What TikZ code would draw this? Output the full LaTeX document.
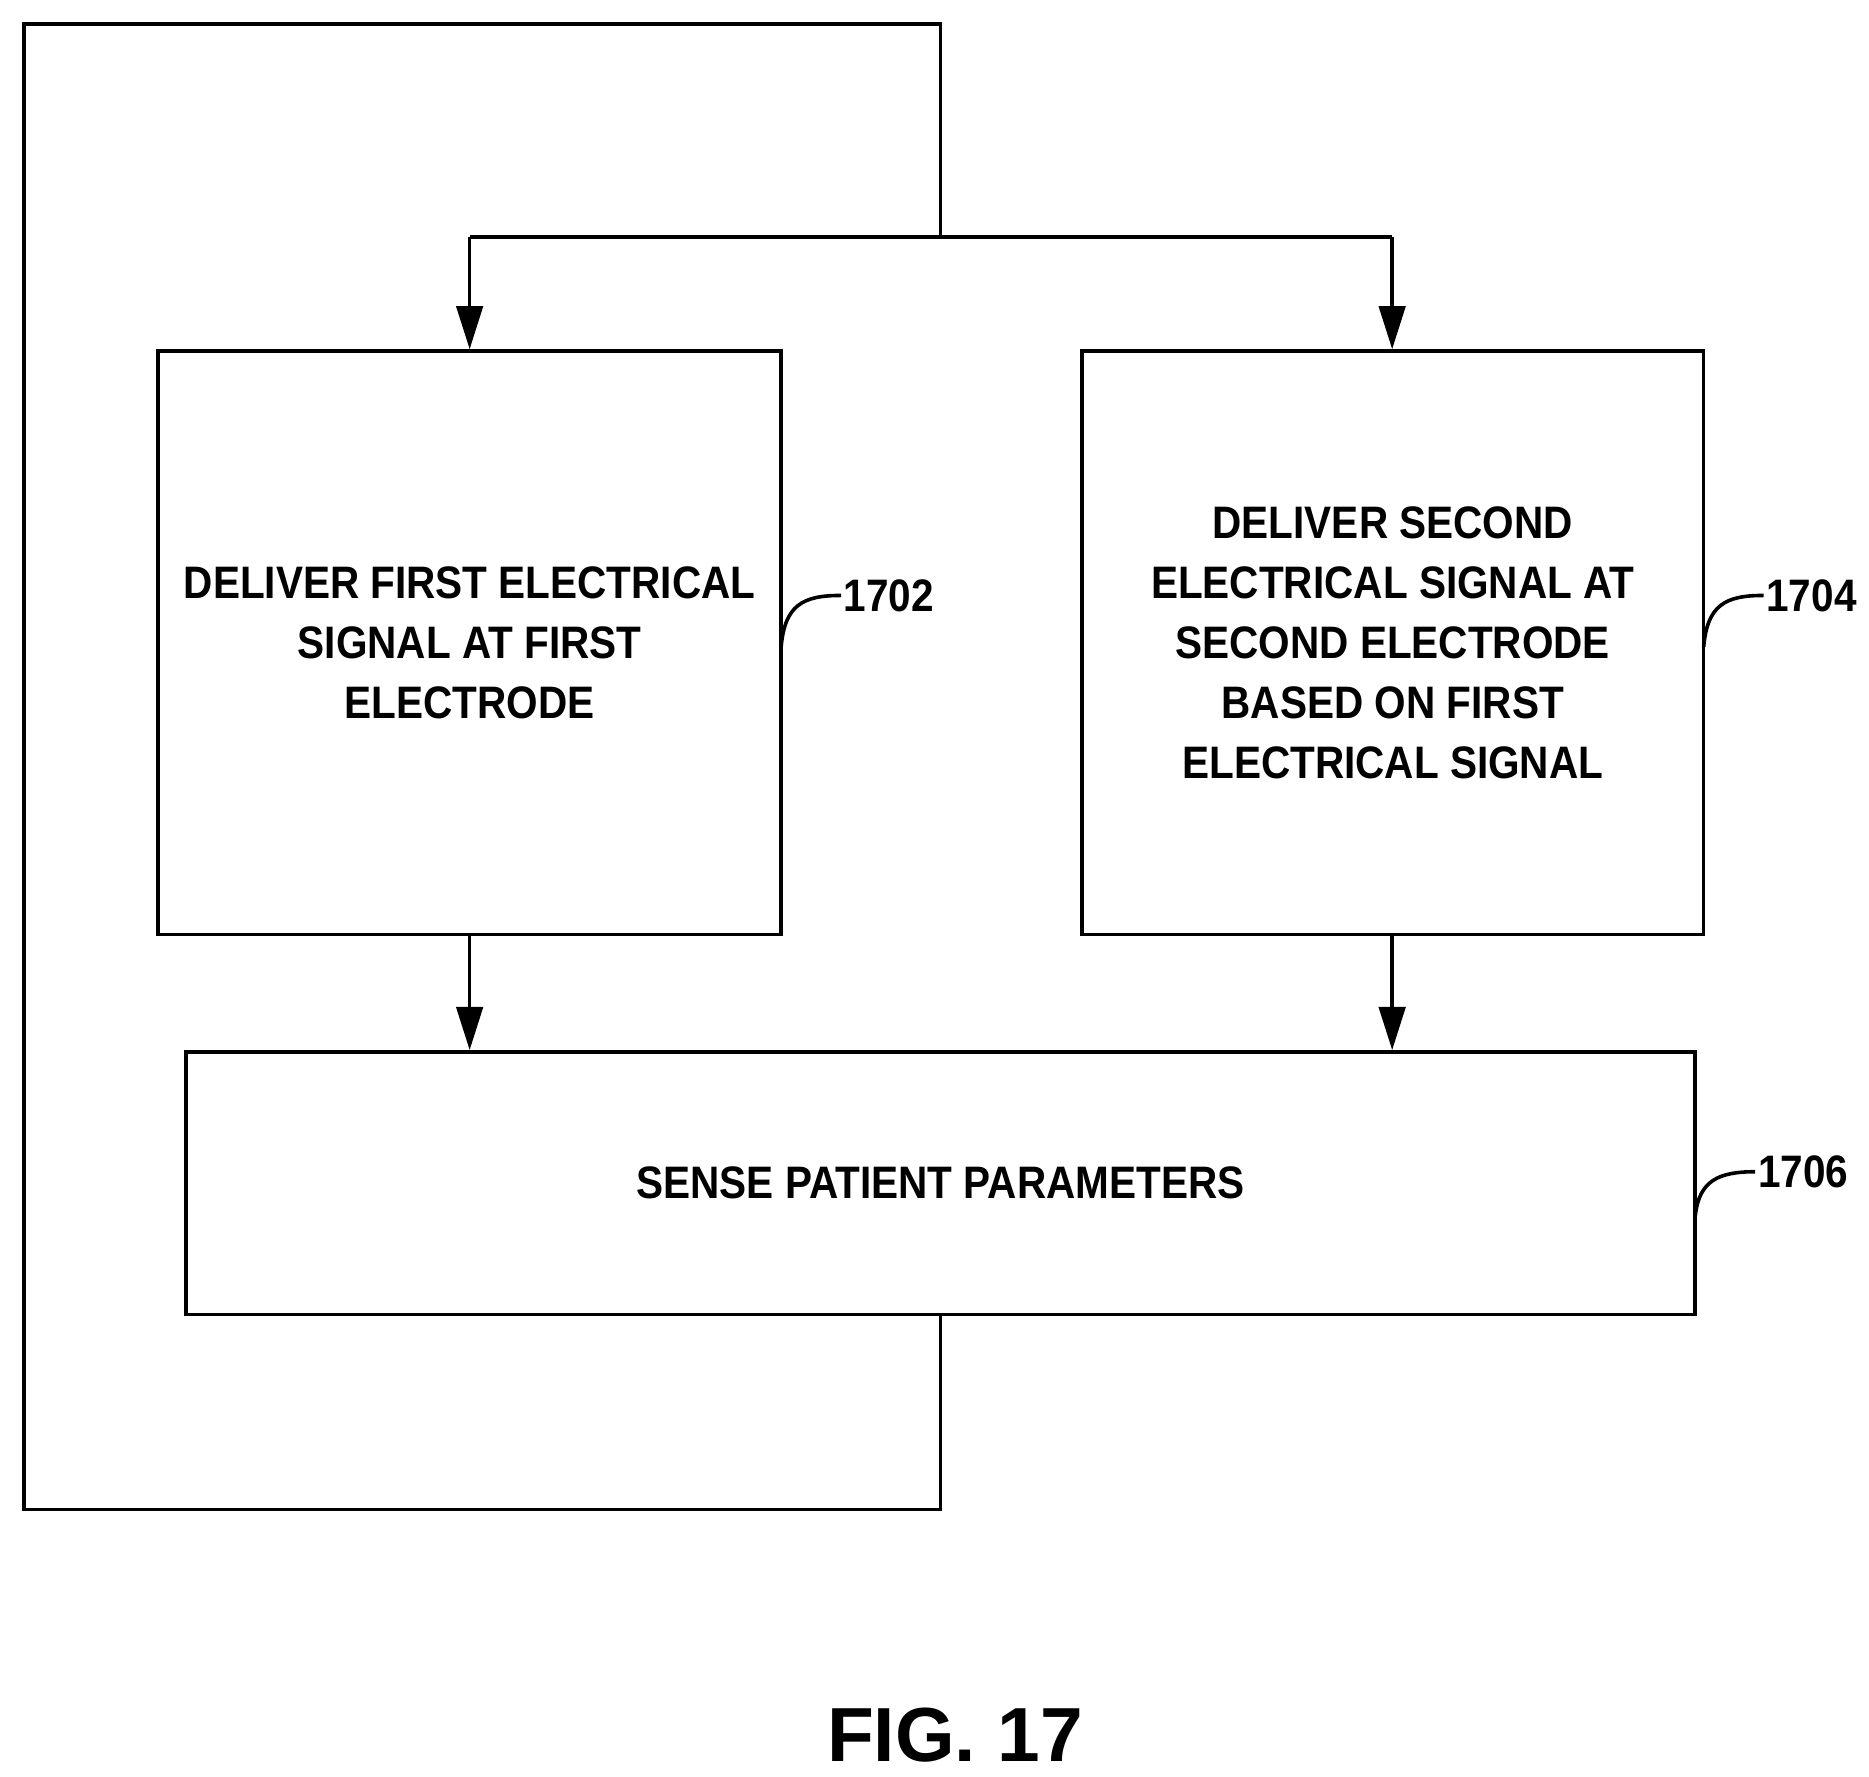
\documentclass[tikz,border=0pt]{standalone}
\usepackage{fontspec}
\setmainfont{Liberation Sans}[FakeStretch=0.89]
\newfontfamily\figfont{Liberation Sans}
\usetikzlibrary{arrows.meta}
\begin{document}
\begin{tikzpicture}[x=0.5pt,y=-0.5pt,
  box/.style={draw,line width=1.5pt,inner sep=0pt,align=center,font=\fontsize{19}{25}\selectfont\bfseries},
  ln/.style={line width=1.5pt},
  arr/.style={ln,-{Triangle[width=11pt,length=18pt]}},
  num/.style={font=\fontsize{19}{22}\selectfont\bfseries,anchor=west,inner sep=1pt}]
\useasboundingbox (0,0) rectangle (1560,1483);
\node[box,minimum width=260pt,minimum height=243.5pt] (b1) at (392,536.5) {DELIVER FIRST ELECTRICAL\\SIGNAL AT FIRST\\ELECTRODE};
\node[box,minimum width=259.5pt,minimum height=243.5pt] (b2) at (1162.5,536.5) {DELIVER SECOND\\ELECTRICAL SIGNAL AT\\SECOND ELECTRODE\\BASED ON FIRST\\ELECTRICAL SIGNAL};
\node[box,minimum width=630pt,minimum height=109.5pt] (b3) at (785,987.5) {SENSE PATIENT PARAMETERS};
\coordinate (top) at (785,20);
\coordinate (tl) at (20,20);
\coordinate (bl) at (20,1260);
\coordinate (br) at (785,1260);
\coordinate (j) at (785,198);
\coordinate (jl) at (392,198);
\coordinate (jr) at (1162,198);
\draw[ln] (b3.south) -- (br) -- (bl) -- (tl) -- (top) -- (j);
\draw[ln] (jl) -- (jr);
\draw[arr] (jl) -- (jl|-b1.north);
\draw[arr] (jr) -- (jr|-b2.north);
\draw[arr] (b1.south) -- (b1.south|-b3.north);
\draw[arr] (jr|-b2.south) -- (jr|-b3.north);
\node[num] (n1) at (702,497) {1702};
\node[num] (n2) at (1472,497) {1704};
\node[num] (n3) at (1465,978) {1706};
\draw[ln] (652,540) .. controls (655,505) and (670,497) .. (n1.west);
\draw[ln] (1422,540) .. controls (1425,505) and (1440,497) .. (n2.west);
\draw[ln] (1415,1015) .. controls (1418,985) and (1435,978) .. (n3.west);
\node[font=\figfont\fontsize{32}{38}\selectfont\bfseries] (fig) at (797,1448) {FIG. 17};
\end{tikzpicture}
\end{document}
